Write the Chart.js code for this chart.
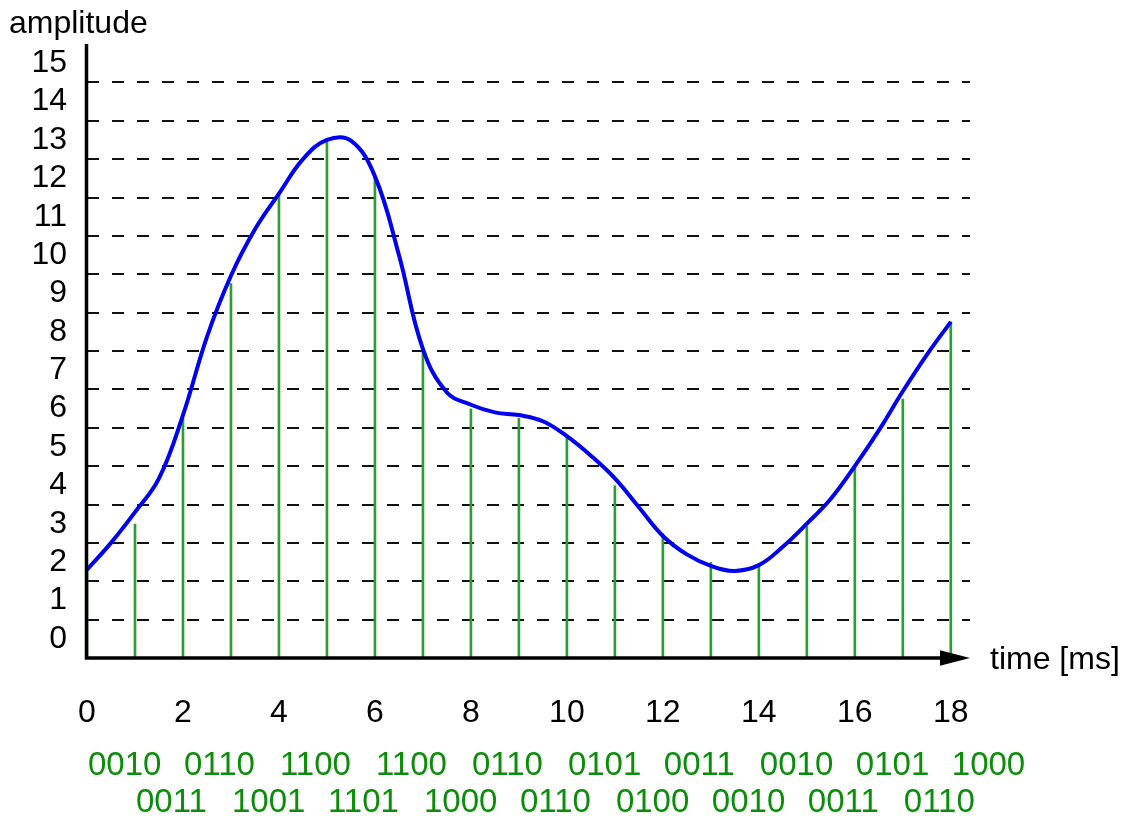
<!DOCTYPE html>
<html>
<head>
<meta charset="utf-8">
<script src="https://cdn.jsdelivr.net/npm/chart.js@4"></script>
<style>
  body { margin: 0; background: #fff; }
  canvas { display: block; }
</style>
</head>
<body>
<canvas id="canvas-muestreo" width="1129" height="816"></canvas>
<script>
// sample instants (ms) and stem heights
const sampleTimes = [0, 1, 2, 3, 4, 5, 6, 7, 8, 9, 10, 11, 12, 13, 14, 15, 16, 17, 18];
const sampleValues = [2.27, 3.49, 6.24, 9.76, 12.13, 13.52, 12.52, 8.1, 6.49, 6.25, 5.75, 4.49, 3.24, 2.49, 2.42, 3.43, 4.98, 6.75, 8.76];

// quantized codes, one per sample
const codes = [
  "0010", "0011", "0110", "1001", "1100", "1101", "1100", "1000", "0110", "0110",
  "0101", "0100", "0011", "0010", "0010", "0011", "0101", "0110", "1000",
];

// analog signal, every half millisecond
const curveTimes = [0, 0.5, 1, 1.5, 2, 2.5, 3, 3.5, 4, 4.5, 5, 5.5, 6, 6.5, 7, 7.5, 8, 8.5, 9, 9.5, 10, 10.5, 11, 11.5, 12, 12.5, 13, 13.5, 14, 14.5, 15, 15.5, 16, 16.5, 17, 17.5, 18];
const curveValues = [2.3, 3.0, 3.8, 4.68, 6.33, 8.37, 9.96, 11.17, 12.1, 13.0, 13.5, 13.48, 12.55, 10.5, 8.05, 6.92, 6.6, 6.4, 6.33, 6.17, 5.78, 5.27, 4.68, 3.93, 3.18, 2.7, 2.4, 2.27, 2.42, 2.9, 3.5, 4.15, 5.0, 5.93, 6.95, 7.9, 8.76];

const xTicks = [0, 2, 4, 6, 8, 10, 12, 14, 16, 18];
const yLevels = [0, 1, 2, 3, 4, 5, 6, 7, 8, 9, 10, 11, 12, 13, 14, 15];

const FONT = "Liberation Sans, Arial, sans-serif";

const extras = {
  id: "extras",
  afterDatasetsDraw(chart) {
    const ctx = chart.ctx;
    const area = chart.chartArea;
    const xs = chart.scales.x;

    ctx.save();
    // axes
    ctx.strokeStyle = "#000";
    ctx.lineWidth = 3.5;
    ctx.beginPath();
    ctx.moveTo(area.left - 0.5, area.top);
    ctx.lineTo(area.left - 0.5, area.bottom + 1.7);
    ctx.moveTo(area.left - 2.2, area.bottom);
    ctx.lineTo(area.right - 25, area.bottom);
    ctx.stroke();
    ctx.fillStyle = "#000";
    ctx.beginPath();
    ctx.moveTo(area.right, area.bottom);
    ctx.lineTo(area.right - 30, area.bottom - 7.7);
    ctx.lineTo(area.right - 30, area.bottom + 7.7);
    ctx.closePath();
    ctx.fill();

    // axis titles
    ctx.font = "32px " + FONT;
    ctx.textBaseline = "alphabetic";
    ctx.textAlign = "left";
    ctx.fillText("amplitude", 9, 33);
    ctx.fillText("time [ms]", area.right + 20, area.bottom + 11);

    // codes under the axis, two rows
    ctx.fillStyle = "#0b8c0b";
    ctx.font = "33px " + FONT;
    sampleTimes.forEach((t, i) => {
      const x = xs.getPixelForValue(t) + 1;
      const y = i % 2 === 0 ? 775 : 812;
      ctx.fillText(codes[i], x, y);
    });
    ctx.restore();
  },
};

const data = {
  datasets: [
    {
      type: "line",
      label: "signal",
      data: curveTimes.map((t, i) => ({ x: t, y: curveValues[i] })),
      borderColor: "#0000f0",
      borderWidth: 4,
      pointRadius: 0,
      tension: 0.4,
      fill: false,
      order: 0,
    },
    {
      type: "bar",
      label: "samples",
      data: sampleTimes.map((t, i) => ({ x: t, y: sampleValues[i] })),
      backgroundColor: "#2ca02c",
      barThickness: 2,
      order: 1,
    },
  ],
};

const config = {
  data: data,
  options: {
    responsive: false,
    animation: false,
    layout: { padding: { top: 44, right: 159, left: 0, bottom: 0 } },
    plugins: { legend: { display: false }, tooltip: { enabled: false } },
    scales: {
      x: {
        type: "linear",
        offset: false,
        min: 0,
        max: 18.4,
        grid: { display: false, offset: false },
        border: { display: false },
        afterBuildTicks: (scale) => {
          scale.ticks = xTicks.map((v) => ({ value: v }));
        },
        ticks: { font: { family: FONT, size: 32 }, color: "#000", padding: 28, maxRotation: 0, autoSkip: false },
        afterFit: (scale) => { scale.height = 158; },
      },
      y: {
        type: "linear",
        position: "left",
        min: 0,
        max: 16,
        afterBuildTicks: (scale) => {
          scale.ticks = yLevels.concat([16]).map((v) => ({ value: v }));
        },
        ticks: { display: false, autoSkip: false },
        grid: {
          drawTicks: false,
          lineWidth: 2,
          color: (c) => (c.tick && c.tick.value > 0 && c.tick.value < 16 ? "#111" : "rgba(0,0,0,0)"),
        },
        border: { display: false, dash: [12, 13] },
        afterFit: (scale) => { scale.width = 0; },
      },
      yLabels: {
        type: "linear",
        position: "left",
        min: 0,
        max: 16,
        afterBuildTicks: (scale) => {
          scale.ticks = yLevels.map((v) => ({ value: v + 0.5 }));
        },
        ticks: {
          font: { family: FONT, size: 32 },
          color: "#000",
          padding: 20,
          autoSkip: false,
          callback: (v) => String(v - 0.5),
        },
        grid: { display: false, drawTicks: false },
        border: { display: false },
        afterFit: (scale) => { scale.width = 87; },
      },
    },
  },
  plugins: [extras],
};

new Chart(document.getElementById("canvas-muestreo"), config);
</script>
</body>
</html>
